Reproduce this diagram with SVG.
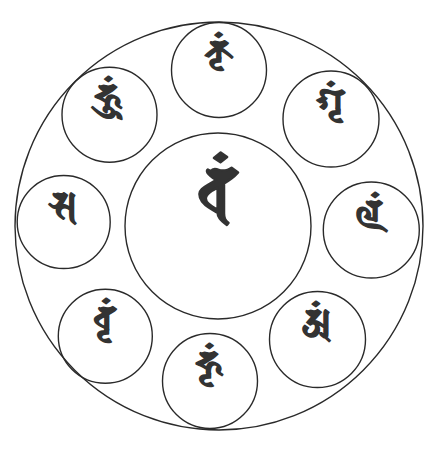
<svg xmlns="http://www.w3.org/2000/svg" width="440" height="449" viewBox="0 0 440 449">
<style>
.c{fill:none;stroke:#2a2a2a;stroke-width:1.4}
.s{font-family:"Noto Sans Siddham","Noto Sans","DejaVu Sans",sans-serif;fill:#333;stroke:#333;stroke-width:1.6;stroke-linejoin:round;text-anchor:middle;dominant-baseline:central}
.sm{font-size:40px}
.lg{font-size:72px;stroke-width:2.4}
</style>
<rect width="440" height="449" fill="#fff"/>
<g id="outer"><circle class="c" cx="219" cy="226" r="204"/></g>
<g id="center"><circle class="c" cx="218" cy="226" r="93"/><text class="s lg" x="218" y="218">𑖪𑖽</text></g>
<g id="top"><circle class="c" cx="219" cy="70" r="47.5"/><text class="s sm" x="219" y="68">𑖎𑖴𑖽</text></g>
<g id="upper-right"><circle class="c" cx="331" cy="119" r="48"/><text class="s sm" x="331" y="117">𑖐𑖴𑖽</text></g>
<g id="right"><circle class="c" cx="371.3" cy="230" r="48"/><text class="s sm" x="371" y="228">𑖩𑖽</text></g>
<g id="lower-right"><circle class="c" cx="317.5" cy="339.5" r="48"/><text class="s sm" x="317" y="337">𑖀𑖽</text></g>
<g id="bottom"><circle class="c" cx="210" cy="381" r="47.5"/><text class="s sm" x="210" y="379">𑖮𑖴𑖽</text></g>
<g id="lower-left"><circle class="c" cx="105.3" cy="336.3" r="47"/><text class="s sm" x="105" y="334">𑖪𑖴𑖽</text></g>
<g id="left"><circle class="c" cx="63.7" cy="222" r="46.5"/><text class="s sm" x="63" y="220">𑖭</text></g>
<g id="upper-left"><circle class="c" cx="109.5" cy="114.7" r="47.5"/><text class="s sm" x="109" y="112">𑖮𑖳𑖽</text></g>
</svg>
